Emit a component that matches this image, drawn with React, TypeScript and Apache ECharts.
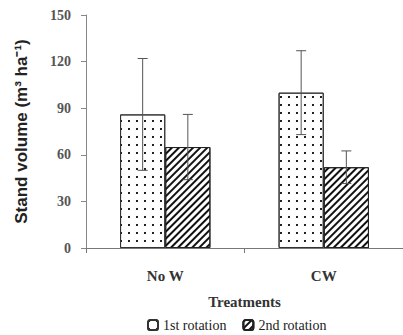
import React, { useEffect, useRef } from "react";
import * as echarts from "echarts";

const categories = ["No W", "CW"];
const seriesNames = ["1st rotation", "2nd rotation"];
const rotation1 = [86, 100];
const rotation1Err = [36, 27];
const rotation2 = [65, 52];
const rotation2Err = [21, 10.5];
const yTicks = [0, 30, 60, 90, 120, 150];

const GAP = 0.43;

function errorSeries(vals: number[], errs: number[], sign: number) {
  return {
    type: "custom",
    silent: true,
    z: 10,
    data: vals.map((v, i) => [i, v, errs[i]]),
    renderItem: (params: any, api: any) => {
      const idx = api.value(0);
      const v = api.value(1);
      const e = api.value(2);
      const band = api.size([1, 0])[0];
      const off = sign * band * (1 - GAP) / 4;
      const top = api.coord([idx, v + e]);
      const bot = api.coord([idx, v - e]);
      const x = top[0] + off;
      const cap = 5;
      const style = { stroke: "#555", lineWidth: 1 };
      return {
        type: "group",
        children: [
          { type: "line", shape: { x1: x, y1: top[1], x2: x, y2: bot[1] }, style },
          { type: "line", shape: { x1: x - cap, y1: top[1], x2: x + cap, y2: top[1] }, style },
          { type: "line", shape: { x1: x - cap, y1: bot[1], x2: x + cap, y2: bot[1] }, style },
        ],
      };
    },
  };
}

export default function App() {
  const ref = useRef<HTMLDivElement>(null);
  useEffect(() => {
    if (!ref.current) return;
    const chart = echarts.init(ref.current, null, { renderer: "svg" });
    const dotDecal = {
      symbol: "rect",
      symbolSize: 1,
      color: "#222",
      dashArrayX: [1.5, 5.5],
      dashArrayY: [1.5, 5.5],
      rotation: 0,
    };
    const hatchDecal = {
      symbol: "rect",
      symbolSize: 1,
      color: "#111",
      dashArrayX: [1, 0],
      dashArrayY: [2, 2.3],
      rotation: -Math.PI / 4,
    };
    chart.setOption({
      animation: false,
      backgroundColor: "#fff",
      grid: { left: 86, top: 15, bottom: 87, right: -5 },
      legend: {
        data: seriesNames,
        left: 147,
        top: 318,
        padding: 0,
        itemWidth: 10,
        itemHeight: 10,
        itemGap: 16,
        textStyle: { fontFamily: "Liberation Serif", fontSize: 14, color: "#222", lineHeight: 14 },
      },
      xAxis: {
        type: "category",
        data: categories,
        name: "Treatments",
        nameLocation: "middle",
        nameGap: 46,
        nameTextStyle: { fontFamily: "Liberation Serif", fontWeight: "bold", fontSize: 15, color: "#333" },
        axisLine: { lineStyle: { color: "#777", width: 1 } },
        axisTick: { show: true, length: 5, lineStyle: { color: "#777" } },
        axisLabel: { margin: 20, fontFamily: "Liberation Serif", fontWeight: "bold", fontSize: 15, color: "#333" },
      },
      yAxis: {
        type: "value",
        min: yTicks[0],
        max: yTicks[yTicks.length - 1],
        interval: 30,
        name: "Stand volume (m³ ha⁻¹)",
        nameLocation: "middle",
        nameGap: 56,
        nameTextStyle: { fontFamily: "Liberation Sans", fontWeight: "bold", fontSize: 17, color: "#222" },
        axisLine: { show: true, lineStyle: { color: "#888", width: 1 } },
        axisTick: { show: true, length: 5, lineStyle: { color: "#888" } },
        splitLine: { show: false },
        axisLabel: { margin: 15, fontFamily: "Liberation Serif", fontWeight: "bold", fontSize: 14, color: "#555" },
      },
      series: [
        {
          name: seriesNames[0],
          type: "bar",
          data: rotation1,
          barGap: "0%",
          barCategoryGap: GAP * 100 + "%",
          itemStyle: { color: "#fff", borderColor: "#333", borderWidth: 1, decal: dotDecal },
        },
        {
          name: seriesNames[1],
          type: "bar",
          data: rotation2,
          barGap: "0%",
          barCategoryGap: GAP * 100 + "%",
          itemStyle: { color: "#fff", borderColor: "#222", borderWidth: 1, decal: hatchDecal },
        },
        errorSeries(rotation1, rotation1Err, -1),
        errorSeries(rotation2, rotation2Err, 1),
      ],
    });
    return () => chart.dispose();
  }, []);
  return <div ref={ref} style={{ width: 403, height: 335, position: "absolute", left: 0, top: 0 }} />;
}
